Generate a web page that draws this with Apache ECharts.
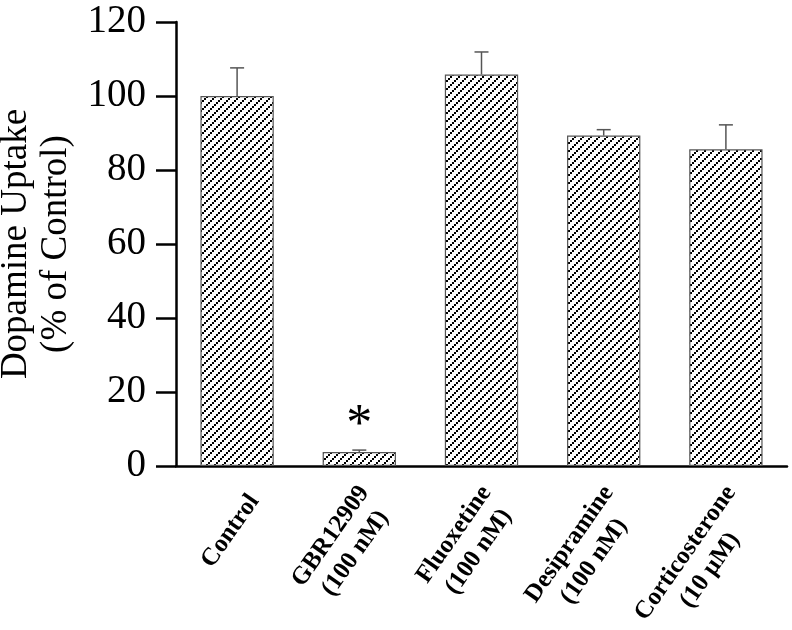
<!DOCTYPE html>
<html>
<head>
<meta charset="utf-8">
<script src="https://cdn.jsdelivr.net/npm/echarts@6/dist/echarts.min.js"></script>
<style>html,body{margin:0;padding:0;background:#fff}#c{width:792px;height:630px}</style>
</head>
<body>
<div id="c"></div>
<script>
var categories = ['Control', 'GBR12909\n(100 nM)', 'Fluoxetine\n(100 nM)', 'Desipramine\n(100 nM)', 'Corticosterone\n(10 \u03bcM)'];
var uptakeMean = [100, 3.8, 105.8, 89.3, 85.6];
var uptakeErrTop = [107.6, 4.3, 111.9, 90.9, 92.2];
var significance = ['', '*', '', '', ''];
var yTicks = [0, 20, 40, 60, 80, 100, 120];

function makePattern() {
  var c = document.createElement('canvas');
  c.width = 8; c.height = 8;
  var g = c.getContext('2d');
  g.fillStyle = '#fff';
  g.fillRect(0, 0, 8, 8);
  g.fillStyle = '#000';
  g.fillRect(0, 6, 2, 2);
  g.fillRect(2, 4, 2, 2);
  g.fillRect(4, 2, 2, 2);
  g.fillRect(6, 0, 2, 2);
  return c;
}

var chart = echarts.init(document.getElementById('c'), null, {renderer: 'canvas'});
var serif = '"Liberation Serif", "Times New Roman", serif';

chart.setOption({
  animation: false,
  grid: {left: 176, right: 5, top: 22, bottom: 164, outerBoundsMode: 'none', containLabel: false},
  xAxis: {
    type: 'category',
    data: categories,
    axisLine: {lineStyle: {color: '#000', width: 2.5}},
    axisTick: {show: false},
    axisLabel: {
      rotate: 55,
      interval: 0,
      margin: 19,
      align: 'right',
      padding: [42, 0, 0, 0],
      formatter: function (v) {
        return v.split('\n').map(function (s) { return '{c|' + s + '}'; }).join('\n');
      },
      rich: {
        c: {
          align: 'center',
          fontFamily: serif,
          fontWeight: 'bold',
          fontSize: 25,
          lineHeight: 30,
          color: '#000'
        }
      }
    }
  },
  yAxis: {
    type: 'value',
    min: yTicks[0],
    max: yTicks[yTicks.length - 1],
    interval: 20,
    name: 'Dopamine Uptake\n(% of Control)',
    nameLocation: 'middle',
    nameRotate: 90,
    nameGap: 98,
    nameTextStyle: {fontFamily: serif, fontSize: 37, lineHeight: 40, color: '#000'},
    axisLine: {show: true, lineStyle: {color: '#000', width: 2.5}},
    axisTick: {show: true, inside: false, length: 20, lineStyle: {color: '#000', width: 2.5}},
    axisLabel: {fontFamily: serif, fontSize: 39, color: '#000', margin: 30},
    splitLine: {show: false}
  },
  series: [
    {
      type: 'bar',
      data: uptakeMean.map(function (v, i) {
        return {value: v, label: {show: significance[i] !== '', formatter: significance[i]}};
      }),
      barWidth: '60%',
      itemStyle: {
        color: {image: makePattern(), repeat: 'repeat'},
        borderColor: '#555',
        borderWidth: 1.2
      },
      label: {
        position: 'top',
        distance: 0,
        fontFamily: serif,
        fontSize: 52,
        color: '#000'
      },
      z: 2
    },
    {
      type: 'custom',
      data: uptakeErrTop.map(function (v, i) { return [i, uptakeMean[i], v]; }),
      renderItem: function (params, api) {
        var base = api.coord([api.value(0), api.value(1)]);
        var top = api.coord([api.value(0), api.value(2)]);
        var hw = 7;
        return {
          type: 'group',
          children: [
            {type: 'line', shape: {x1: base[0], y1: base[1], x2: top[0], y2: top[1]}, style: {stroke: '#555', lineWidth: 1.5}},
            {type: 'line', shape: {x1: top[0] - hw, y1: top[1], x2: top[0] + hw, y2: top[1]}, style: {stroke: '#555', lineWidth: 1.5}}
          ]
        };
      },
      z: 3
    }
  ]
});
</script>
</body>
</html>
